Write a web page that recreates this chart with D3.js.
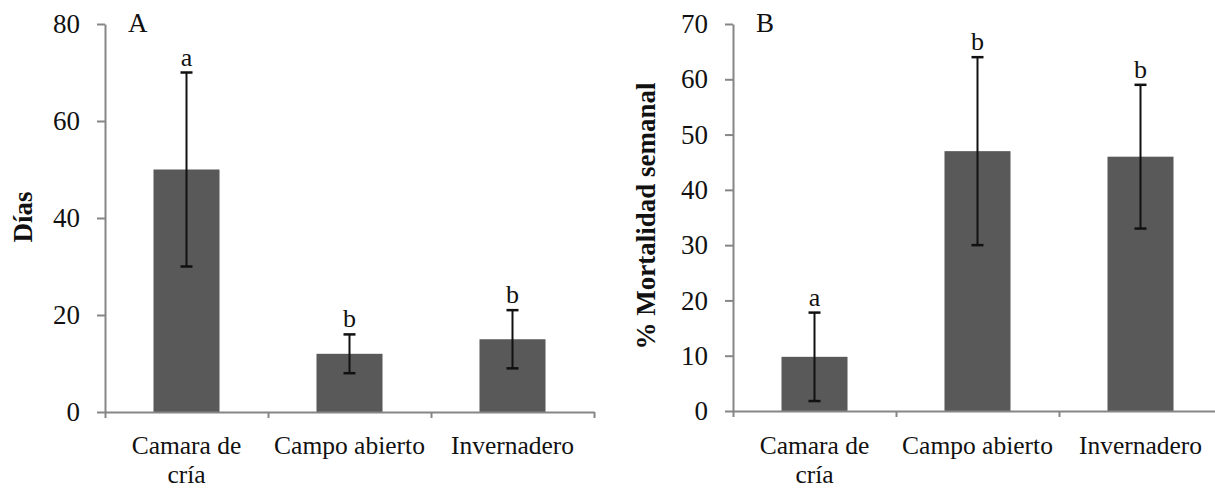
<!DOCTYPE html>
<html>
<head>
<meta charset="utf-8">
<script src="https://cdn.jsdelivr.net/npm/d3@7"></script>
<style>
  body { margin: 0; background: #fff; }
  svg { display: block; font-family: "Liberation Serif", "Times New Roman", serif; }
</style>
</head>
<body>
<svg id="graf" width="1215" height="489"></svg>
<script>
const categorias = ["Camara de cría", "Campo abierto", "Invernadero"];
const etiquetasX = [["Camara de", "cría"], ["Campo abierto"], ["Invernadero"]];

// panel A
const diasMedia = [50, 12, 15];
const diasError = [20, 4, 6];
const diasLetras = ["a", "b", "b"];
const diasTicks = [0, 20, 40, 60, 80];

// panel B
const mortMedia = [9.8, 47, 46];
const mortError = [8, 17, 13];
const mortLetras = ["a", "b", "b"];
const mortTicks = [0, 10, 20, 30, 40, 50, 60, 70];

const svg = d3.select("#graf");
const gris = "#868686";

function renderPanel(op) {
  const g = svg.append("g");
  const x = d3.scaleBand().domain(categorias).range([op.x0, op.x0 + 489]);
  const xl = d3.scaleLinear().domain([0, 3]).range([op.x0, op.x0 + 489]);
  const y = d3.scaleLinear().domain([0, d3.max(op.ticks)]).range([op.y0, 24]);
  const ancho = x.bandwidth() * 0.405;

  // barras
  g.selectAll("rect")
    .data(op.media)
    .enter()
    .append("rect")
    .attr("x", (d, i) => x(categorias[i]) + x.bandwidth() / 2 - ancho / 2)
    .attr("y", d => y(d))
    .attr("width", ancho)
    .attr("height", d => op.y0 - y(d))
    .attr("fill", "#595959");

  // eje x
  const ax = g.append("g").attr("transform", `translate(0,${op.y0})`)
    .call(d3.axisBottom(xl).tickValues([0, 1, 2, 3]).tickFormat("").tickSize(6).tickSizeOuter(0));
  ax.selectAll("path, line").attr("stroke", gris).attr("stroke-width", 2);

  // eje y
  const ay = g.append("g").attr("transform", `translate(${op.x0},0)`)
    .call(d3.axisLeft(y).tickValues(op.ticks).tickSize(8).tickSizeOuter(0).tickPadding(17));
  ay.select(".domain").attr("stroke", gris).attr("stroke-width", 2);
  ay.selectAll("line").attr("stroke", gris).attr("stroke-width", 2);
  ay.selectAll("text").attr("font-size", 27).attr("fill", "#111")
    .attr("font-family", "'Liberation Serif', serif");

  // barras de error
  const err = g.append("g").attr("stroke", "#111").attr("stroke-width", 2);
  op.media.forEach((m, i) => {
    const cx = x(categorias[i]) + x.bandwidth() / 2;
    const top = y(m + op.error[i]);
    const bot = y(m - op.error[i]);
    err.append("line").attr("x1", cx).attr("x2", cx).attr("y1", top).attr("y2", bot);
    err.append("line").attr("x1", cx - 6).attr("x2", cx + 6).attr("y1", top).attr("y2", top).attr("stroke-width", 2.5);
    err.append("line").attr("x1", cx - 6).attr("x2", cx + 6).attr("y1", bot).attr("y2", bot).attr("stroke-width", 2.5);
    g.append("text")
      .attr("x", cx).attr("y", top - 7)
      .attr("text-anchor", "middle")
      .attr("font-size", 26)
      .attr("fill", "#111")
      .text(op.letras[i]);
  });

  // etiquetas categorias
  etiquetasX.forEach((lineas, i) => {
    const cx = x(categorias[i]) + x.bandwidth() / 2;
    lineas.forEach((l, j) => {
      g.append("text")
        .attr("x", cx).attr("y", 454 + j * 28.5)
        .attr("text-anchor", "middle")
        .attr("font-size", 25.5)
        .attr("fill", "#111")
        .text(l);
    });
  });

  // letra del panel
  g.append("text")
    .attr("x", op.x0 + 23).attr("y", 32)
    .attr("font-size", 27)
    .attr("fill", "#111")
    .text(op.panel);

  // titulo eje y
  g.append("text")
    .attr("transform", `translate(${op.tituloX},${op.tituloY}) rotate(-90)`)
    .attr("text-anchor", "middle")
    .attr("font-size", 27)
    .attr("font-weight", "bold")
    .attr("fill", "#111")
    .text(op.titulo);
}

renderPanel({x0: 105, y0: 412, media: diasMedia, error: diasError, letras: diasLetras,
  ticks: diasTicks, panel: "A", titulo: "Días", tituloX: 32, tituloY: 217});
renderPanel({x0: 733, y0: 411, media: mortMedia, error: mortError, letras: mortLetras,
  ticks: mortTicks, panel: "B", titulo: "% Mortalidad semanal", tituloX: 655, tituloY: 216});
</script>
</body>
</html>
